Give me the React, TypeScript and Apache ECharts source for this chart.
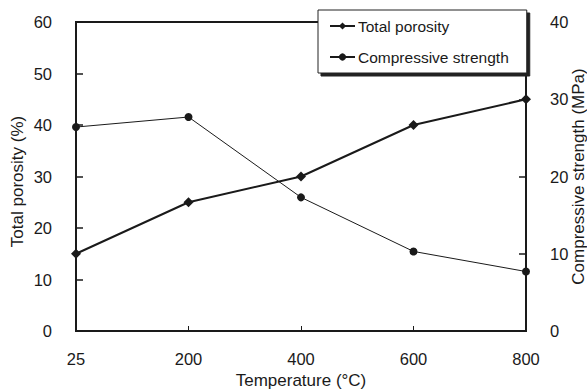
import React, { useEffect, useRef } from "react";
import * as echarts from "echarts";

const categories = ["25", "200", "400", "600", "800"];
const totalPorosity = [15, 25, 30, 40, 45];
const compressiveStrength = [26.4, 27.7, 17.3, 10.3, 7.7];
const leftTicks = [0, 10, 20, 30, 40, 50, 60];
const rightTicks = [0, 10, 20, 30, 40];

export default function App() {
  const ref = useRef<HTMLDivElement>(null);
  useEffect(() => {
    if (!ref.current) return;
    const chart = echarts.init(ref.current, null, { renderer: "svg" });
    const font = "Liberation Sans, Arial, sans-serif";
    const axisLine = { show: true, lineStyle: { color: "#1a1a1a", width: 2 } };
    chart.setOption({
      animation: false,
      textStyle: { fontFamily: font },
      grid: {
        left: 76,
        right: 61,
        top: 22,
        bottom: 60,
        show: true,
        borderColor: "#1a1a1a",
        borderWidth: 2,
        outerBoundsMode: "none",
        containLabel: false,
      },
      legend: {
        orient: "vertical",
        left: 318,
        top: 10,
        width: 214,
        padding: [8, 18, 8, 11],
        itemGap: 15,
        itemWidth: 25,
        itemHeight: 9,
        backgroundColor: "#fff",
        borderColor: "#222",
        borderWidth: 1,
        shadowColor: "#222",
        shadowBlur: 1,
        shadowOffsetX: 3,
        shadowOffsetY: 3,
        textStyle: { fontSize: 15.5, color: "#1a1a1a", fontFamily: font, padding: [0, 0, 0, -2] },
        data: ["Total porosity", "Compressive strength"],
      },
      xAxis: {
        type: "category",
        data: categories,
        boundaryGap: false,
        axisLine,
        axisTick: { show: true, inside: true, length: 5, lineStyle: { color: "#1a1a1a", width: 1 } },
        axisLabel: { fontSize: 16.5, color: "#1a1a1a", margin: 19, fontFamily: font },
        name: "Temperature (°C)",
        nameLocation: "middle",
        nameGap: 40,
        nameTextStyle: { fontSize: 17, color: "#1a1a1a", fontFamily: font },
        splitLine: { show: false },
      },
      yAxis: [
        {
          type: "value",
          min: leftTicks[0],
          max: leftTicks[leftTicks.length - 1],
          interval: 10,
          position: "left",
          axisLine,
          axisTick: { show: true, inside: true, length: 7, lineStyle: { color: "#1a1a1a", width: 1.5 } },
          axisLabel: { fontSize: 16.5, color: "#1a1a1a", margin: 24, fontFamily: font },
          splitLine: { show: false },
          name: "Total porosity (%)",
          nameLocation: "middle",
          nameGap: 50,
          nameRotate: 90,
          nameMoveOverlap: false,
          nameTextStyle: { fontSize: 17, color: "#1a1a1a", fontFamily: font, padding: [0, 10, 0, 0] },
        },
        {
          type: "value",
          min: rightTicks[0],
          max: rightTicks[rightTicks.length - 1],
          interval: 10,
          position: "right",
          axisLine,
          axisTick: { show: true, inside: true, length: 7, lineStyle: { color: "#1a1a1a", width: 1.5 } },
          axisLabel: { fontSize: 16.5, color: "#1a1a1a", margin: 24, fontFamily: font },
          splitLine: { show: false },
          name: "Compressive strength (MPa)",
          nameLocation: "middle",
          nameGap: 44,
          nameRotate: 90,
          nameMoveOverlap: false,
          nameTextStyle: { fontSize: 17, color: "#1a1a1a", fontFamily: font },
        },
      ],
      series: [
        {
          name: "Total porosity",
          type: "line",
          yAxisIndex: 0,
          data: totalPorosity,
          symbol: "diamond",
          symbolSize: 10,
          itemStyle: { color: "#1a1a1a" },
          lineStyle: { color: "#1a1a1a", width: 2 },
          z: 3,
        },
        {
          name: "Compressive strength",
          type: "line",
          yAxisIndex: 1,
          data: compressiveStrength,
          symbol: "circle",
          symbolSize: 8,
          itemStyle: { color: "#1a1a1a" },
          lineStyle: { color: "#1a1a1a", width: 1 },
          z: 3,
        },
      ],
    });
    return () => chart.dispose();
  }, []);
  return <div ref={ref} style={{ width: 587, height: 391, position: "fixed", left: 0, top: 0, background: "#fff" }} />;
}
